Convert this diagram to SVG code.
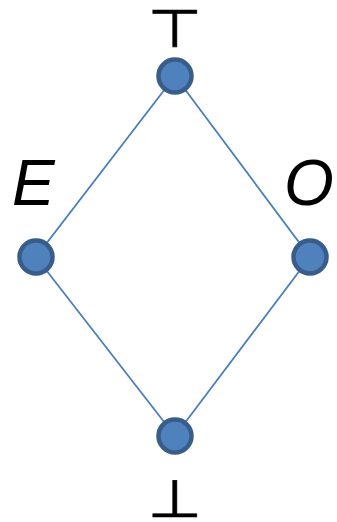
<svg xmlns="http://www.w3.org/2000/svg" width="337" height="522" viewBox="0 0 337 522">
<style>
.n{fill:#4F81BD;stroke:#385D8A;stroke-width:4.5}
.e{stroke:#4A7EBB;stroke-width:1.8;fill:none}
.sym{font-family:"DejaVu Sans",sans-serif;font-size:50px;fill:#000;stroke:#000;stroke-width:0.7}
.lab{font-family:"Liberation Sans",Arial,sans-serif;font-style:italic;font-size:64px;fill:#000}
</style>
<rect width="337" height="522" fill="#fff"/>
<g id="connectors">
<line class="e" x1="175" y1="76" x2="36" y2="257"/>
<line class="e" x1="175" y1="76" x2="310" y2="257"/>
<line class="e" x1="36" y1="257" x2="175" y2="436"/>
<line class="e" x1="310" y1="257" x2="175" y2="436"/>
</g>
<g id="top"><circle class="n" cx="175" cy="76" r="16.5"/><text class="sym" transform="translate(175,47) scale(1.25,1.05)" text-anchor="middle">⊤</text></g>
<g id="E"><circle class="n" cx="36" cy="257" r="16.5"/><text class="lab" x="12" y="205">E</text></g>
<g id="O"><circle class="n" cx="310" cy="257" r="16.5"/><text class="lab" x="284" y="205">O</text></g>
<g id="bottom"><circle class="n" cx="175" cy="436" r="16.5"/><text class="sym" transform="translate(175,517) scale(1.25,1.05)" text-anchor="middle">⊥</text></g>
</svg>
